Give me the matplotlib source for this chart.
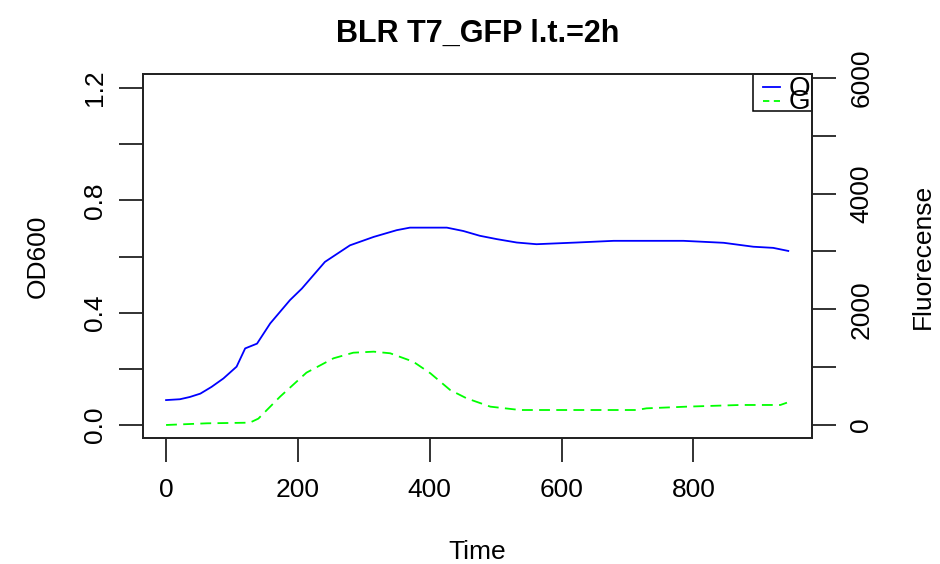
import matplotlib
matplotlib.use('Agg')
import matplotlib.pyplot as plt
from matplotlib.patches import Rectangle
from matplotlib.lines import Line2D

plt.rcParams['font.family'] = ['Liberation Sans', 'DejaVu Sans']

# OD600 readings (left axis)
od_time = [0, 21, 36, 52, 69, 87, 107, 120, 138, 158, 188, 206, 241, 279, 315,
           350, 370, 400, 426, 451, 476, 502, 532, 562, 623, 679, 785, 846, 891,
           921, 944]
od_value = [0.089, 0.092, 0.100, 0.112, 0.136, 0.166, 0.208, 0.273, 0.290,
            0.362, 0.445, 0.486, 0.581, 0.640, 0.670, 0.694, 0.703, 0.703,
            0.703, 0.691, 0.674, 0.662, 0.650, 0.644, 0.650, 0.656, 0.656,
            0.649, 0.635, 0.631, 0.620]

# GFP fluorescence readings (right axis)
gfp_time = [0, 62, 127, 140, 173, 213, 254, 284, 315, 340, 375, 401, 431, 456,
            492, 537, 620, 714, 729, 790, 871, 932, 942]
gfp_value = [0, 29, 40, 110, 490, 905, 1153, 1250, 1268, 1240, 1095, 894, 605,
             461, 317, 259, 259, 259, 288, 317, 346, 346, 386]

title = "BLR T7_GFP l.t.=2h"
legend_labels = ["OD", "GFP"]

fs = 19
fig = plt.figure(figsize=(9.4, 5.64), dpi=100)
ax = fig.add_axes([143 / 940, 1 - 438 / 564, 669 / 940, 364 / 564])
ax2 = ax.twinx()

ax.plot(od_time, od_value, color='#0000ff', lw=1.3)
ax2.plot(gfp_time, gfp_value, color='#00ff00', lw=1.3, dashes=[6, 3.5])

ax.set_xlim(-35, 980)
ax.set_ylim(-0.046, 1.25)
ax2.set_ylim(-225, 6069)

ax.set_xticks([0, 200, 400, 600, 800])
ax.set_yticks([0, 0.2, 0.4, 0.6, 0.8, 1.0, 1.2])
ax.set_yticklabels(['0.0', '', '0.4', '', '0.8', '', '1.2'])
ax2.set_yticks([0, 1000, 2000, 3000, 4000, 5000, 6000])
ax2.set_yticklabels(['0', '', '2000', '', '4000', '', '6000'])

for a in (ax, ax2):
    a.tick_params(length=17, width=1.3, labelsize=fs, direction='out', color='#222222')
    for s in a.spines.values():
        s.set_linewidth(1.3)
        s.set_color('#222222')
ax.tick_params(axis='x', pad=12)
ax.tick_params(axis='y', pad=9)
ax2.tick_params(axis='y', pad=10)
for lbl in ax.get_yticklabels():
    lbl.set_rotation(90)
    lbl.set_va('center')
for lbl in ax2.get_yticklabels():
    lbl.set_rotation(90)
    lbl.set_va('center')

ax.set_xlabel('Time', fontsize=fs, labelpad=27)
ax.set_ylabel('OD600', fontsize=fs, labelpad=24)
ax2.set_ylabel('Fluorecense', fontsize=fs, labelpad=27)
ax2.yaxis.set_label_position('right')
ax2.yaxis.label.set_rotation(90)
ax.set_title(title, fontsize=22, fontweight='bold', pad=23)

# legend box drawn in top-right corner (text spills past the box as in R)
ax2.add_patch(Rectangle((0.912, 0.897), 0.088, 0.103, transform=ax2.transAxes,
                        fill=False, lw=1.1, ec='black', clip_on=False))
ax2.add_line(Line2D([0.927, 0.952], [0.964, 0.964], transform=ax2.transAxes,
                    color='#0000ff', lw=1.3))
ax2.add_line(Line2D([0.927, 0.952], [0.926, 0.926], transform=ax2.transAxes,
                    color='#00ff00', lw=1.3, dashes=[3.5, 2.5]))
for lab, yy in zip(legend_labels, [0.960, 0.924]):
    t = ax2.text(0.965, yy, lab, transform=ax2.transAxes, fontsize=20,
                 va='center', ha='left', clip_on=True)
    t.set_clip_path(ax2.patch)

fig.savefig('out.png', dpi=100)
